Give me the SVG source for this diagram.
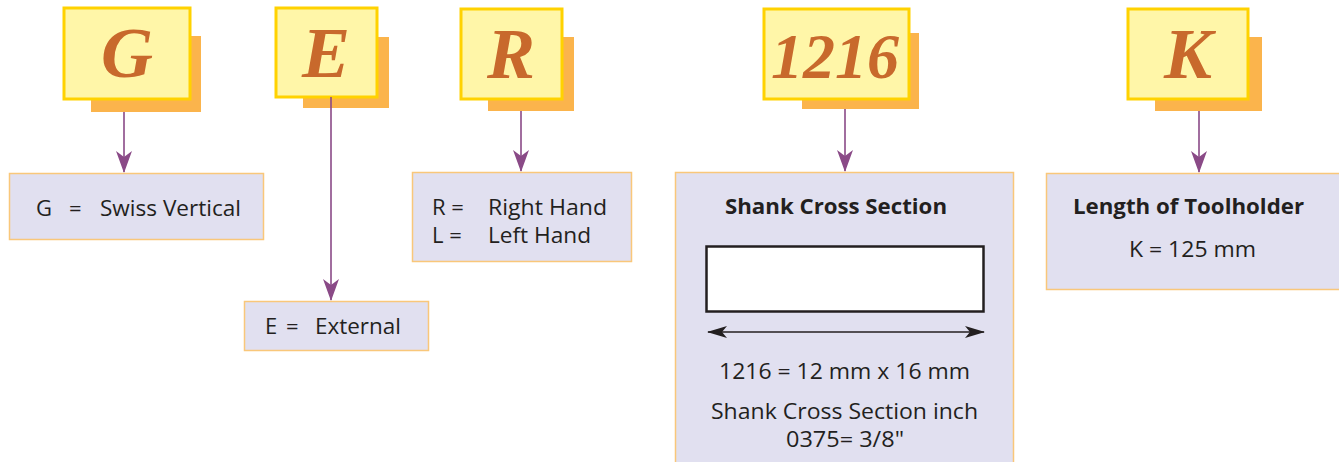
<svg xmlns="http://www.w3.org/2000/svg" width="1339" height="462" viewBox="0 0 1339 462">
<defs>
<marker id="ah" markerWidth="22" markerHeight="16" refX="21" refY="8" orient="auto" markerUnits="userSpaceOnUse" viewBox="0 0 22 16">
<path d="M0,0 L6,8 L0,16 L22,8 Z" fill="#8A4A87"/>
</marker>
<marker id="bh" markerWidth="20" markerHeight="12" refX="19" refY="6" orient="auto-start-reverse" markerUnits="userSpaceOnUse" viewBox="0 0 20 12">
<path d="M0,0 L20,6 L0,12 L5,6 Z" fill="#231F20"/>
</marker>
<style>
.sh{fill:#FBB44C}
.yb{fill:#FFF6A8;stroke:#FFD200;stroke-width:3}
.big{font-family:"Liberation Serif",serif;font-weight:bold;font-style:italic;fill:#C8692C;text-anchor:middle}
.lb{fill:#E1E0F0;stroke:#F9C77A;stroke-width:1.5}
.t{font-family:"Open Sans","Liberation Sans",sans-serif;font-size:22px;fill:#231F20}
.b{font-weight:bold}
.c{stroke:#8A4A87;stroke-width:1.6;fill:none}
</style>
</defs>
<rect width="1339" height="462" fill="#fff"/>
<g id="code-G">
<rect class="sh" x="91" y="36" width="110" height="76"/>
<rect class="yb" x="64" y="8" width="126" height="91"/>
<text class="big" x="127" y="77" font-size="72">G</text>
</g>
<g id="code-E">
<rect class="sh" x="303" y="37" width="86" height="71"/>
<rect class="yb" x="276" y="8" width="101" height="89"/>
<text class="big" x="326" y="77" font-size="72">E</text>
</g>
<g id="code-R">
<rect class="sh" x="488" y="37" width="86" height="74"/>
<rect class="yb" x="461" y="9" width="101" height="90"/>
<text class="big" x="511" y="78" font-size="72">R</text>
</g>
<g id="code-1216">
<rect class="sh" x="802" y="33" width="117" height="76"/>
<rect class="yb" x="764" y="9" width="145" height="90"/>
<text class="big" x="835" y="78" font-size="64">1216</text>
</g>
<g id="code-K">
<rect class="sh" x="1155" y="37" width="107" height="74"/>
<rect class="yb" x="1128" y="9" width="120" height="90"/>
<text class="big" x="1188" y="78" font-size="72">K</text>
</g>
<g id="connectors">
<line class="c" x1="124" y1="112" x2="124" y2="172" marker-end="url(#ah)"/>
<line class="c" x1="331" y1="97" x2="331" y2="300" marker-end="url(#ah)"/>
<line class="c" x1="521" y1="111" x2="521" y2="171" marker-end="url(#ah)"/>
<line class="c" x1="845" y1="109" x2="845" y2="171" marker-end="url(#ah)"/>
<line class="c" x1="1199" y1="111" x2="1199" y2="172" marker-end="url(#ah)"/>
</g>
<g id="desc-G">
<rect class="lb" x="9.5" y="173.5" width="254" height="66"/>
<text class="t" y="216"><tspan x="36">G</tspan><tspan x="69">=</tspan><tspan x="100" textLength="141" lengthAdjust="spacingAndGlyphs">Swiss Vertical</tspan></text>
</g>
<g id="desc-E">
<rect class="lb" x="244.5" y="301.5" width="184" height="49"/>
<text class="t" y="334"><tspan x="265">E</tspan><tspan x="286">=</tspan><tspan x="315" textLength="86" lengthAdjust="spacingAndGlyphs">External</tspan></text>
</g>
<g id="desc-R">
<rect class="lb" x="412.5" y="172.5" width="219" height="89"/>
<text class="t" x="432" y="215">R =</text>
<text class="t" x="488" y="215" textLength="119" lengthAdjust="spacingAndGlyphs">Right Hand</text>
<text class="t" x="432" y="243">L =</text>
<text class="t" x="488" y="243" textLength="103" lengthAdjust="spacingAndGlyphs">Left Hand</text>
</g>
<g id="desc-1216">
<rect class="lb" x="675.5" y="172.5" width="338" height="295"/>
<text class="t b" x="725" y="214" textLength="222" lengthAdjust="spacingAndGlyphs">Shank Cross Section</text>
<rect x="706.5" y="246.5" width="277" height="65" fill="#fff" stroke="#231F20" stroke-width="2.5"/>
<line x1="708" y1="332" x2="984" y2="332" stroke="#231F20" stroke-width="1.6" marker-start="url(#bh)" marker-end="url(#bh)"/>
<text class="t" x="719" y="379" textLength="251" lengthAdjust="spacingAndGlyphs">1216 = 12 mm x 16 mm</text>
<text class="t" x="711" y="419" textLength="267" lengthAdjust="spacingAndGlyphs">Shank Cross Section inch</text>
<text class="t" x="786" y="447" textLength="118" lengthAdjust="spacingAndGlyphs">0375= 3/8"</text>
</g>
<g id="desc-K">
<rect class="lb" x="1046.5" y="173.5" width="300" height="116"/>
<text class="t b" x="1073" y="214" textLength="231" lengthAdjust="spacingAndGlyphs">Length of Toolholder</text>
<text class="t" x="1129" y="257" textLength="127" lengthAdjust="spacingAndGlyphs">K = 125 mm</text>
</g>
</svg>
